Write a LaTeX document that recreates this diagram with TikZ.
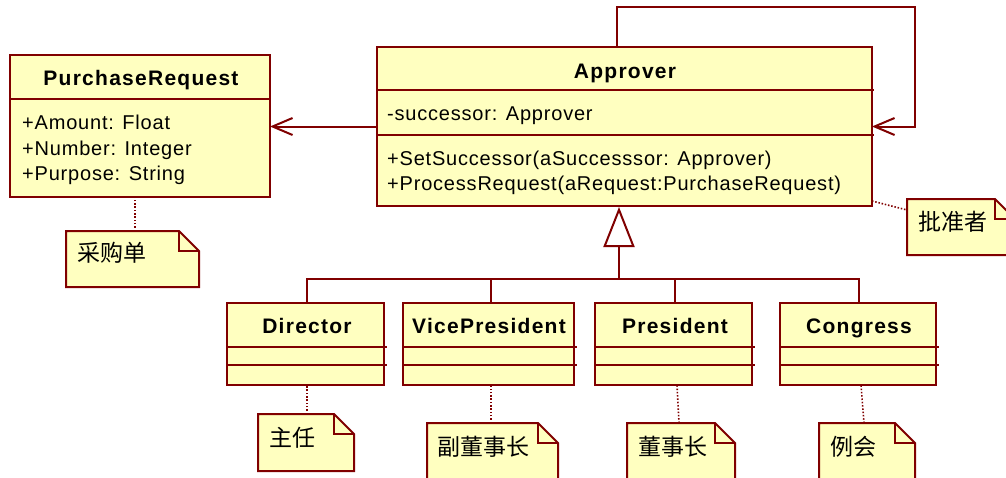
\documentclass[tikz,border=0pt]{standalone}
\usepackage{fontspec}
\setmainfont{Liberation Sans}[LetterSpace=4]
\newfontfamily\titlefont{Liberation Sans}[LetterSpace=6]
\newfontfamily\cjk{Noto Sans CJK SC}
\usetikzlibrary{arrows.meta}
\definecolor{umlred}{HTML}{800000}
\definecolor{umlfill}{HTML}{FFFFC0}
\newcommand\umlnote[1]{%
  \draw[conn, fill=umlfill] (#1.north west) -- ([xshift=-20pt]#1.north east) -- ([yshift=-20pt]#1.north east) -- (#1.south east) -- (#1.south west) -- cycle;
  \draw[conn] ([xshift=-20pt]#1.north east) |- ([yshift=-20pt]#1.north east);
}
\begin{document}
\begin{tikzpicture}[x=1pt,y=-1pt,
  cls/.style={draw=umlred, fill=umlfill, line width=2pt, inner sep=0pt, outer sep=0pt, anchor=north west},
  notebox/.style={inner sep=0pt, outer sep=0pt, anchor=north west},
  sep/.style={draw=umlred, line width=2pt},
  ttl/.style={font=\titlefont\bfseries\fontsize{21}{25}\selectfont, inner sep=0pt, anchor=base},
  txt/.style={font=\fontsize{20}{24}\selectfont, inner sep=0pt, anchor=base west},
  cjkt/.style={font=\cjk\fontsize{23}{26}\selectfont, inner sep=0pt, anchor=west},
  conn/.style={draw=umlred, line width=2pt},
  assoc/.style={conn, -{Straight Barb[length=20pt,width=17pt]}},
  gen/.style={conn, -{Triangle[length=40pt,width=31pt,fill=white]}},
  dotc/.style={draw=umlred, line width=1.6pt, dash pattern=on 1.5pt off 1.8pt}
]
\fill[white] (0,0) rectangle (1006,477);
\useasboundingbox (0,0) rectangle (1006,477);

% classes
\node[cls, minimum width=260pt, minimum height=142pt] (pr) at (10,55) {};
\node[cls, minimum width=495pt, minimum height=159pt] (app) at (377,47) {};
\node[cls, minimum width=157pt, minimum height=82pt] (dir) at (227,303) {};
\node[cls, minimum width=171pt, minimum height=82pt] (vp) at (403,303) {};
\node[cls, minimum width=157pt, minimum height=82pt] (pres) at (595,303) {};
\node[cls, minimum width=156pt, minimum height=82pt] (con) at (780,303) {};

% separators
\draw[sep] (10,99) -- (270,99);
\draw[sep] (377,90) -- (874,90);
\draw[sep] (377,135) -- (874,135);
\foreach \a/\b in {227/387, 403/577, 595/755, 780/939}{
  \draw[sep] (\a,347) -- (\b,347);
  \draw[sep] (\a,365) -- (\b,365);
}

% texts
\node[ttl] (prt) at (141,85) {PurchaseRequest};
\node[txt] (pra1) at (22,129) {+Amount: Float};
\node[txt] (pra2) at (22,155) {+Number: Integer};
\node[txt] (pra3) at (22,180) {+Purpose: String};
\node[ttl] (appt) at (625,78) {Approver};
\node[txt] (appa) at (387,120) {-successor: Approver};
\node[txt] (appm1) at (387,165) {+SetSuccessor(aSuccesssor: Approver)};
\node[txt] (appm2) at (387,190) {+ProcessRequest(aRequest:PurchaseRequest)};
\node[ttl] (dirt) at (307,333) {Director};
\node[ttl] (vpt) at (489,333) {VicePresident};
\node[ttl] (prest) at (675,333) {President};
\node[ttl] (cont) at (859,333) {Congress};

% connectors
\coordinate (lt) at (617,7);
\coordinate (rt) at (915,7);
\draw[assoc] (app.north -| lt) -- (lt) -- (rt) |- (app.east);
\draw[assoc] (app.west) -- (app.west -| pr.east);

\coordinate (bus) at (619,279);
\coordinate (tip) at (619,207);
\coordinate (dx) at (307,0);
\coordinate (vx) at (491,0);
\coordinate (px) at (675,0);
\coordinate (cx) at (859,0);
\draw[gen] (bus) -- (tip);
\draw[conn] (dx |- dir.north) |- (cx |- bus) -- (cx |- con.north);
\draw[conn] (vx |- vp.north) -- (vx |- bus);
\draw[conn] (px |- pres.north) -- (px |- bus);

% notes
\node[notebox, minimum width=133pt, minimum height=56pt] (npr) at (66,231) {};
\node[notebox, minimum width=108pt, minimum height=56pt] (napp) at (907,199) {};
\node[notebox, minimum width=96pt, minimum height=57pt] (ndir) at (258,414) {};
\node[notebox, minimum width=131pt, minimum height=70pt] (nvp) at (427,423) {};
\node[notebox, minimum width=108pt, minimum height=70pt] (npres) at (627,423) {};
\node[notebox, minimum width=96pt, minimum height=70pt] (ncon) at (819,423) {};
\umlnote{npr}
\umlnote{napp}
\umlnote{ndir}
\umlnote{nvp}
\umlnote{npres}
\umlnote{ncon}

\coordinate (prx) at (135,0);
\coordinate (pnx) at (679,0);
\coordinate (cnx) at (864,0);
\draw[dotc] (prx |- npr.north) -- (prx |- pr.south);
\draw[dotc] ([yshift=5pt]app.south east) -- ([yshift=-11pt]napp.north west);
\draw[dotc] (dx |- ndir.north) -- (dx |- dir.south);
\draw[dotc] (vx |- nvp.north) -- (vx |- vp.south);
\draw[dotc] (pnx |- npres.north) -- ([xshift=2pt]px |- pres.south);
\draw[dotc] (cnx |- ncon.north) -- ([xshift=2pt]cx |- con.south);

\node[cjkt] (tpr) at (77,253) {采购单};
\node[cjkt] (tapp) at (918,222) {批准者};
\node[cjkt] (tdir) at (269,438) {主任};
\node[cjkt] (tvp) at (437,447) {副董事长};
\node[cjkt] (tpres) at (638,447) {董事长};
\node[cjkt] (tcon) at (830,447) {例会};
\end{tikzpicture}
\end{document}
